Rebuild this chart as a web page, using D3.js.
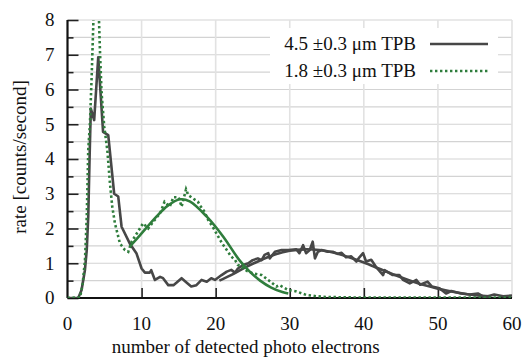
<!DOCTYPE html>
<html>
<head>
<meta charset="utf-8">
<script src="https://cdn.jsdelivr.net/npm/d3@7"></script>
<style>
  html, body { margin: 0; padding: 0; background: #fff; }
  text { font-family: "Liberation Serif", "DejaVu Serif", serif; fill: #111; }
</style>
</head>
<body>
<svg id="chart"></svg>
<script>
// ======================
// DATA
// ======================

// 4.5 um TPB, measured
const thickX = [0, 1.45, 1.9, 2.35, 2.6, 2.8, 3.0, 3.15, 3.6, 4.15, 4.8, 5.5, 6.3, 6.85, 7.3, 8.4, 9.3, 10.0, 10.45, 11.1, 11.3, 11.8, 12.5, 12.9, 13.6, 14.3, 14.7, 15.4, 16.1, 16.7, 17.4, 18.1, 18.8, 19.4, 19.9, 20.8, 21.5, 22.1, 22.6, 23.0, 23.7, 24.4, 25.0, 25.7, 26.2, 26.6, 27.1, 27.3, 28.0, 28.9, 29.8, 30.9, 31.3, 31.8, 32.2, 32.7, 33.1, 33.4, 33.8, 34.3, 35.1, 35.8, 36.5, 37.0, 37.6, 38.3, 39.0, 39.4, 39.9, 40.3, 41.0, 41.7, 42.6, 42.8, 43.9, 44.8, 45.3, 46.2, 47.1, 47.6, 48.6, 49.2, 50.2, 51.1, 51.8, 53.1, 54.3, 55.4, 56.3, 57.6, 58.8, 60];
const thickY = [0, 0, 0.23, 0.8, 1.38, 2.34, 4.2, 5.45, 5.12, 6.93, 4.78, 4.69, 3.0, 2.92, 2.05, 1.57, 1.29, 0.85, 0.73, 0.73, 0.8, 0.52, 0.61, 0.57, 0.37, 0.37, 0.44, 0.57, 0.44, 0.33, 0.37, 0.52, 0.47, 0.57, 0.52, 0.66, 0.76, 0.81, 0.73, 0.85, 0.95, 1.0, 1.09, 1.14, 1.09, 1.24, 1.29, 1.14, 1.33, 1.38, 1.38, 1.40, 1.29, 1.52, 1.29, 1.38, 1.62, 1.14, 1.33, 1.38, 1.33, 1.33, 1.27, 1.3, 1.17, 1.2, 1.05, 1.17, 1.29, 1.05, 1.1, 0.88, 0.66, 0.8, 0.66, 0.66, 0.52, 0.42, 0.52, 0.38, 0.47, 0.33, 0.28, 0.13, 0.2, 0.13, 0.1, 0.13, 0.02, 0.1, 0.05, 0.07];

// 4.5 um TPB, fit
const thickFitX = [20.5, 22, 24, 26, 28, 30, 32, 34, 36, 38, 40, 42, 44, 46, 48, 50, 52, 54, 56, 57];
const thickFitY = [0.5, 0.65, 0.88, 1.08, 1.25, 1.36, 1.4, 1.38, 1.3, 1.17, 1.02, 0.85, 0.68, 0.52, 0.38, 0.27, 0.18, 0.11, 0.06, 0.05];

// 1.8 um TPB, measured
const thinX = [0, 1.7, 2.05, 2.36, 2.6, 2.8, 3.03, 3.26, 3.5, 3.9, 4.25, 4.38, 4.6, 4.96, 5.37, 5.73, 6.04, 6.4, 7.08, 7.75, 8.2, 8.65, 9.77, 10.2, 10.9, 11.6, 12.5, 13.1, 13.8, 14.3, 15.0, 15.4, 15.8, 16.0, 16.3, 17.6, 17.9, 18.5, 19.0, 19.6, 20.1, 20.6, 21.0, 21.5, 22.1, 22.6, 23.0, 23.5, 24.2, 25.0, 26.2, 27.1, 28.2, 28.6, 29.8, 30.9, 32.2, 33.6, 34.9, 40, 50, 60];
const thinY = [0, 0.02, 0.42, 1.09, 2.34, 4.26, 5.03, 6.37, 8.0, 9.2, 8.0, 7.13, 5.9, 4.93, 4.26, 3.3, 2.63, 2.15, 1.57, 1.38, 1.33, 1.62, 2.0, 2.15, 2.0, 2.2, 2.44, 2.77, 2.63, 2.9, 2.9, 2.63, 2.96, 3.13, 2.96, 2.77, 2.66, 2.48, 2.24, 2.05, 1.86, 1.67, 1.53, 1.38, 1.19, 1.1, 0.95, 0.9, 0.78, 0.71, 0.66, 0.52, 0.33, 0.37, 0.23, 0.19, 0.09, 0.05, 0.03, 0.01, 0.01, 0.01];

// 1.8 um TPB, fit
const thinFitX = [8.4, 9.8, 12.0, 13.5, 15.2, 16.5, 18.8, 21.0, 23.2, 24.5, 26, 27.5, 29, 29.8];
const thinFitY = [1.48, 1.81, 2.34, 2.65, 2.84, 2.78, 2.34, 1.77, 1.09, 0.78, 0.5, 0.3, 0.17, 0.13];

const xTicks = [0, 10, 20, 30, 40, 50, 60];
const yTicks = [0, 1, 2, 3, 4, 5, 6, 7, 8];
const yMinorTicks = [0.5, 1.5, 2.5, 3.5, 4.5, 5.5, 6.5, 7.5];
const legendLabels = ["4.5 \u00b10.3 \u03bcm TPB", "1.8 \u00b10.3 \u03bcm TPB"];

const dark = "#474747";
const green = "#2f7d3c";

// ======================
// SETUP
// ======================

const width = 522;
const height = 359;
const margin = { top: 20, right: 10, bottom: 61, left: 67.5 };

const svg = d3.select("#chart")
    .attr("width", width)
    .attr("height", height);

const x = d3.scaleLinear().domain([0, 60]).range([margin.left, 512]);
const y = d3.scaleLinear().domain([0, 8]).range([height - margin.bottom, margin.top]);

svg.append("defs").append("clipPath").attr("id", "plot-clip")
    .append("rect")
    .attr("x", x(0)).attr("y", y(8))
    .attr("width", x(60) - x(0)).attr("height", y(0) - y(8));

// grid
const grid = svg.append("g");
grid.selectAll("line.h")
    .data(yTicks.concat(yMinorTicks))
    .join("line")
    .attr("x1", x(0)).attr("x2", x(60))
    .attr("y1", d => y(d)).attr("y2", d => y(d))
    .attr("stroke", "#d3d3d3").attr("stroke-width", 1.2);
grid.selectAll("line.v")
    .data(xTicks.slice(1))
    .join("line")
    .attr("x1", d => x(d)).attr("x2", d => x(d))
    .attr("y1", y(8)).attr("y2", y(0))
    .attr("stroke", "#e2e2e2").attr("stroke-width", 1.6);

// axes
const yAxisMajor = d3.axisRight(y).tickValues(yTicks).tickSize(11).tickFormat("");
const yAxisMinor = d3.axisRight(y).tickValues(yMinorTicks).tickSize(6).tickFormat("");
const xAxis = d3.axisTop(x).tickValues(xTicks.slice(1, 6)).tickSize(10).tickFormat("");

const yg1 = svg.append("g").attr("transform", `translate(${x(0)},0)`).call(yAxisMajor);
const yg2 = svg.append("g").attr("transform", `translate(${x(0)},0)`).call(yAxisMinor);
const xg = svg.append("g").attr("transform", `translate(0,${y(0)})`).call(xAxis);
[yg1, yg2, xg].forEach(g => {
    g.select(".domain").remove();
    g.selectAll(".tick line").attr("stroke", "#222").attr("stroke-width", 1.6);
});

svg.append("line")
    .attr("x1", x(0)).attr("x2", x(0)).attr("y1", y(8)).attr("y2", y(0))
    .attr("stroke", "#111").attr("stroke-width", 2.2);
svg.append("line")
    .attr("x1", x(0)).attr("x2", x(60)).attr("y1", y(0)).attr("y2", y(0))
    .attr("stroke", "#111").attr("stroke-width", 2.2);

// tick labels
svg.append("g").selectAll("text")
    .data(yTicks)
    .join("text")
    .attr("x", x(0) - 13)
    .attr("y", d => y(d))
    .attr("dy", "0.34em")
    .attr("text-anchor", "end")
    .style("font-size", "19px")
    .text(d => d);

svg.append("g").selectAll("text")
    .data(xTicks)
    .join("text")
    .attr("x", d => x(d))
    .attr("y", 330)
    .attr("text-anchor", "middle")
    .style("font-size", "19px")
    .text(d => d);

svg.append("text")
    .attr("x", (x(0) + x(60)) / 2 - 44)
    .attr("y", 353)
    .attr("text-anchor", "middle")
    .style("font-size", "19px")
    .text("number of detected photo electrons");

svg.append("text")
    .attr("transform", `translate(26,${157}) rotate(-90)`)
    .attr("text-anchor", "middle")
    .style("font-size", "19px")
    .text("rate [counts/second]");

// ======================
// CURVES
// ======================

const plot = svg.append("g").attr("clip-path", "url(#plot-clip)");

const straight = d3.line().x(d => x(d[0])).y(d => y(d[1]));
const smooth = d3.line().x(d => x(d[0])).y(d => y(d[1])).curve(d3.curveCatmullRom);

const zip = (xs, ys) => xs.map((v, i) => [v, ys[i]]);

plot.append("path")
    .attr("d", straight(zip(thickX, thickY)))
    .attr("fill", "none").attr("stroke", dark).attr("stroke-width", 2.6)
    .attr("stroke-linejoin", "round");

plot.append("path")
    .attr("d", smooth(zip(thickFitX, thickFitY)))
    .attr("fill", "none").attr("stroke", dark).attr("stroke-width", 2.6);

plot.append("path")
    .attr("d", straight(zip(thinX, thinY)))
    .attr("fill", "none").attr("stroke", green).attr("stroke-width", 2.6)
    .attr("stroke-dasharray", "2.4,2.6");

plot.append("path")
    .attr("d", smooth(zip(thinFitX, thinFitY)))
    .attr("fill", "none").attr("stroke", green).attr("stroke-width", 2.6);

// ======================
// LEGEND
// ======================

const legend = svg.append("g");
legend.append("rect")
    .attr("x", 270).attr("y", 28)
    .attr("width", 228).attr("height", 56)
    .attr("fill", "#fff");

legendLabels.forEach((label, i) => {
    const cy = 44 + i * 27;
    legend.append("text")
        .attr("x", 416).attr("y", cy)
        .attr("dy", "0.34em")
        .attr("text-anchor", "end")
        .style("font-size", "19px")
        .text(label);
    legend.append("line")
        .attr("x1", 430).attr("x2", 488)
        .attr("y1", cy).attr("y2", cy)
        .attr("stroke", i === 0 ? dark : green)
        .attr("stroke-width", 2.6)
        .attr("stroke-dasharray", i === 0 ? null : "2.4,2.6");
});
</script>
</body>
</html>
